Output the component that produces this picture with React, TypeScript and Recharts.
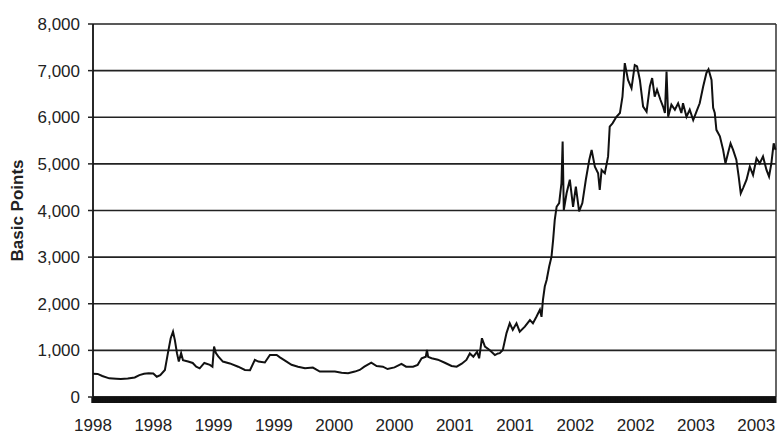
import React from 'react';
import { LineChart, Line, XAxis, YAxis, CartesianGrid, ReferenceLine } from 'recharts';

// week index since start of 1998
const weeks: number[] = [
  0, 2, 4, 7, 10, 12, 15, 18, 20, 22, 24, 26, 27.5, 29, 31, 32.3, 33.5, 34.5, 35.3, 36.2,
  37, 38, 38.8, 41, 43, 44.5, 46, 48, 50.4, 51.5, 52.2, 53, 54, 56, 59, 62.6, 65.5, 67.7, 69.8, 71.3,
  74.1, 76.3, 79.2, 80.6, 82.8, 85.6, 88.4, 91.4, 94.8, 97.8, 101.3, 104.3, 107.2, 110, 112.9, 115, 117, 120, 122.3, 125,
  127, 130, 133, 135, 138, 140, 141.7, 143.5, 144, 144.5, 146, 148.7, 151.7, 154.6, 156.8, 159, 161, 162.5, 164, 165.6,
  166.5, 167.7, 169, 171, 173.3, 174.6, 175.4, 176.7, 178.3, 179.7, 181, 182.6, 184, 186.2, 188.4, 189.7, 191.2, 192.7, 193.4, 194,
  194.8, 195.6, 196.7, 197.7, 198.4, 199.1, 199.9, 201, 202, 202.5, 203, 204.2, 205.6, 207, 208.2, 209.6, 211, 212.5, 214, 215,
  216.4, 217.8, 218.5, 219.3, 220.7, 222.1, 222.8, 224, 225.7, 227.2, 228.3, 229.3, 230.7, 232.2, 233.6, 234.6, 235.8, 237.2, 238.7, 240.1,
  241.1, 242.2, 243.2, 244.7, 245.8, 246.6, 247.3, 248, 249.4, 250.9, 252.3, 253.7, 254.4, 255.9, 257.3, 258.8, 260.2, 261.6, 263.1, 264.5,
  265.4, 266.7, 267.4, 268.1, 268.8, 270.3, 271.7, 272.7, 273.8, 274.9, 276, 277.4, 278.4, 279.3, 280.3, 281.8, 283.2, 284.6, 286.1, 287.5,
  288.9, 290.4, 291.5, 292.5, 293.5, 294.3,
];

// spread in basis points
const spreads: number[] = [
  500, 495, 450, 400, 390, 385, 395, 420, 470, 500, 510, 505, 435, 470, 580, 940, 1260, 1400, 1220, 940,
  760, 940, 790, 760, 730, 650, 615, 730, 690, 650, 1080, 940, 870, 760, 720, 650, 580, 575, 795, 760,
  740, 900, 900, 850, 780, 690, 650, 615, 630, 545, 545, 545, 520, 510, 545, 580, 650, 735, 665, 650,
  600, 635, 710, 650, 650, 690, 830, 865, 1010, 860, 830, 800, 735, 665, 650, 715, 795, 935, 865, 970,
  830, 1260, 1080, 1010, 900, 935, 940, 1010, 1370, 1580, 1440, 1580, 1400, 1510, 1650, 1580, 1720, 1870, 1720, 2080,
  2370, 2510, 2800, 3010, 3370, 3800, 4080, 4160, 4590, 5480, 4010, 4370, 4660, 4080, 4510, 3980, 4160, 4660, 5090, 5300,
  4940, 4800, 4440, 4870, 4800, 5160, 5800, 5870, 6010, 6090, 6440, 7160, 6800, 6620, 7120, 7090, 6800, 6230, 6120, 6660,
  6840, 6440, 6590, 6370, 6230, 6090, 6980, 6010, 6270, 6160, 6300, 6090, 6300, 6010, 6160, 5940, 6120, 6300, 6660, 6950,
  7030, 6800, 6200, 6090, 5730, 5590, 5300, 5010, 5230, 5440, 5300, 5090, 4730, 4370, 4480, 4660, 4940, 4760, 5120, 5010,
  5160, 4870, 4730, 5010, 5440, 5300,
];

const yearLabels: string[] = ['1998', '1998', '1999', '1999', '2000', '2000', '2001', '2001', '2002', '2002', '2003', '2003'];
const labelWeeks: number[] = [0, 26, 52, 78, 104, 130, 156, 182, 208, 234, 260, 286];
const yTicks: number[] = [0, 1000, 2000, 3000, 4000, 5000, 6000, 7000, 8000];
const xMax = 294.5;
const minorTicks: number[] = Array.from({ length: 295 }, (_, i) => i);

const data = weeks.map((w, i) => ({ week: w, bp: spreads[i] }));

const FONT = '"Liberation Sans", Arial, sans-serif';

const XTick = (props: any) => {
  const { x, y, payload } = props;
  const idx = labelWeeks.indexOf(payload.value);
  if (idx < 0) return <g />;
  return (
    <text x={x} y={y} dy="0.71em" textAnchor="middle" fill="#222" fontSize={17} fontFamily={FONT}>
      {yearLabels[idx]}
    </text>
  );
};

export default function App() {
  return (
    <div style={{ position: 'absolute', left: 0, top: 0, width: 779, height: 435, background: '#fff' }}>
      <LineChart width={779} height={435} data={data} margin={{ top: 24, right: 3, bottom: 0, left: 0 }}>
        <CartesianGrid horizontal vertical={false} stroke="#222" strokeWidth={1.6} />
        <XAxis
          dataKey="week"
          type="number"
          domain={[0, xMax]}
          ticks={minorTicks}
          interval={0}
          height={38}
          tick={XTick}
          tickSize={6}
          tickMargin={16}
          tickLine={{ stroke: '#111', strokeWidth: 3.4 }}
          axisLine={{ stroke: '#111', strokeWidth: 1.5 }}
        />
        <YAxis
          type="number"
          domain={[0, 8000]}
          ticks={yTicks}
          interval={0}
          width={93}
          tickSize={5}
          tickMargin={8}
          tickFormatter={(v: number) => v.toLocaleString('en-US')}
          tick={{ fill: '#222', fontSize: 17, fontFamily: FONT }}
          tickLine={{ stroke: '#222', strokeWidth: 1.5 }}
          axisLine={{ stroke: '#111', strokeWidth: 1.8 }}
          label={{
            value: 'Basic Points',
            angle: -90,
            position: 'insideLeft',
            offset: 17,
            style: { textAnchor: 'middle', fontSize: 17, fontWeight: 'bold', fill: '#222', fontFamily: FONT },
          }}
        />
        <ReferenceLine x={xMax} stroke="#333" strokeWidth={1.5} />
        <Line
          type="linear"
          dataKey="bp"
          stroke="#111"
          strokeWidth={2}
          dot={false}
          isAnimationActive={false}
        />
      </LineChart>
    </div>
  );
}
